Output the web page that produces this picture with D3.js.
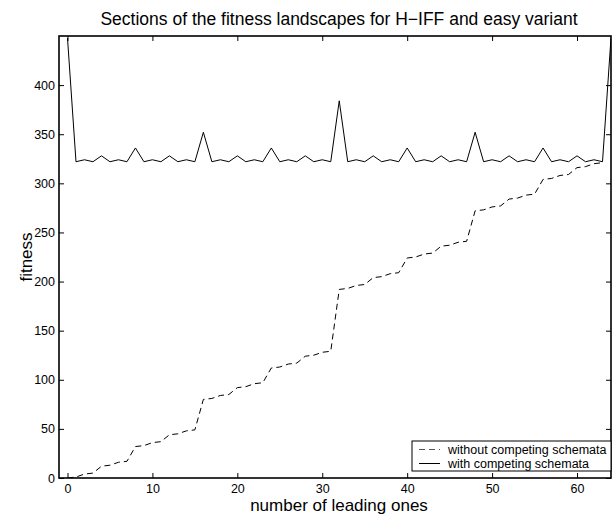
<!DOCTYPE html>
<html>
<head>
<meta charset="utf-8">
<script src="https://cdn.jsdelivr.net/npm/d3@7"></script>
<style>
  body { margin: 0; background: #fff; }
  svg { font-family: "Liberation Sans", Arial, sans-serif; }
</style>
</head>
<body>
<div id="chart"></div>
<script>
// leading ones k = 0..64
var withCompeting = [448, 322, 324, 322, 328, 322, 324, 322, 336, 322, 324, 322, 328, 322, 324, 322,
  352, 322, 324, 322, 328, 322, 324, 322, 336, 322, 324, 322, 328, 322, 324, 322,
  384, 322, 324, 322, 328, 322, 324, 322, 336, 322, 324, 322, 328, 322, 324, 322,
  352, 322, 324, 322, 328, 322, 324, 322, 336, 322, 324, 322, 328, 322, 324, 322, 448];
// k = 0..63
var withoutCompeting = [0, 1, 4, 5, 12, 13, 16, 17, 32, 33, 36, 37, 44, 45, 48, 49,
  80, 81, 84, 85, 92, 93, 96, 97, 112, 113, 116, 117, 124, 125, 128, 129,
  192, 193, 196, 197, 204, 205, 208, 209, 224, 225, 228, 229, 236, 237, 240, 241,
  272, 273, 276, 277, 284, 285, 288, 289, 304, 305, 308, 309, 316, 317, 320, 321];
var xTicks = [0, 10, 20, 30, 40, 50, 60];
var yTicks = [0, 50, 100, 150, 200, 250, 300, 350, 400];
var legendLabels = ["without competing schemata", "with competing schemata"];

var W = 613, H = 514;
var margin = {top: 36, right: 2, bottom: 36, left: 59},
    width = W - margin.left - margin.right,
    height = H - margin.top - margin.bottom;

var svg = d3.select("#chart").append("svg")
    .attr("width", W)
    .attr("height", H);

var g = svg.append("g")
    .attr("transform", "translate(" + margin.left + "," + margin.top + ")");

var x = d3.scaleLinear().domain([-1, 64]).range([0, width]);
var y = d3.scaleLinear().domain([0, 450]).range([height, 0]);

g.append("clipPath").attr("id", "clip")
  .append("rect").attr("width", width).attr("height", height);

var line = d3.line()
    .x(function(d, i) { return x(i); })
    .y(function(d) { return y(d); });

g.append("path")
    .datum(withoutCompeting)
    .attr("clip-path", "url(#clip)")
    .attr("fill", "none")
    .attr("stroke", "#000")
    .attr("stroke-width", 1)
    .attr("stroke-dasharray", "6,4")
    .attr("d", line);

g.append("path")
    .datum(withCompeting)
    .attr("clip-path", "url(#clip)")
    .attr("fill", "none")
    .attr("stroke", "#000")
    .attr("stroke-width", 1)
    .attr("d", line);

// axes, ticks pointing inward, box style
var tickLen = 5;
var xAxis = g.append("g")
    .attr("transform", "translate(0," + height + ")")
    .call(d3.axisBottom(x).tickValues(xTicks).tickSizeInner(-tickLen).tickSizeOuter(0).tickPadding(6));
var xTop = g.append("g")
    .call(d3.axisTop(x).tickValues(xTicks).tickSizeInner(-tickLen).tickSizeOuter(0).tickFormat(""));
var yAxis = g.append("g")
    .call(d3.axisLeft(y).tickValues(yTicks).tickSizeInner(-tickLen).tickSizeOuter(0).tickPadding(4));
var yRight = g.append("g")
    .attr("transform", "translate(" + width + ",0)")
    .call(d3.axisRight(y).tickValues(yTicks).tickSizeInner(-tickLen).tickSizeOuter(0).tickFormat(""));

[xAxis, xTop, yAxis, yRight].forEach(function(a) {
  a.select(".domain").remove();
  a.selectAll(".tick line").attr("stroke", "#000").attr("stroke-width", 1);
  a.selectAll("text").attr("fill", "#000").style("font-size", "12.5px")
    .style("font-family", "Liberation Sans, Arial, sans-serif");
});

g.append("rect")
    .attr("width", width)
    .attr("height", height)
    .attr("fill", "none")
    .attr("stroke", "#000")
    .attr("stroke-width", 1.6);

// legend
var lg = g.append("g").attr("transform", "translate(" + (width - 199) + "," + (height - 37) + ")");
lg.append("rect")
    .attr("width", 199).attr("height", 30)
    .attr("fill", "#fff").attr("stroke", "#000").attr("stroke-width", 1);
legendLabels.forEach(function(lab, i) {
  var ly = 8.5 + i * 14;
  lg.append("line")
      .attr("x1", 7).attr("x2", 28).attr("y1", ly).attr("y2", ly)
      .attr("stroke", i === 0 ? "#555" : "#000").attr("stroke-width", 1)
      .attr("stroke-dasharray", i === 0 ? "6,4" : null);
  lg.append("text")
      .attr("x", 36).attr("y", ly)
      .attr("dy", "0.35em")
      .style("font-size", "12.5px")
      .text(lab);
});

// title and labels
svg.append("text")
    .attr("x", margin.left + width / 2 + 4)
    .attr("y", 25)
    .attr("text-anchor", "middle")
    .style("font-size", "17.5px")
    .text("Sections of the fitness landscapes for H\u2212IFF and easy variant");

svg.append("text")
    .attr("x", margin.left + width / 2 + 4)
    .attr("y", 511)
    .attr("text-anchor", "middle")
    .style("font-size", "17px")
    .text("number of leading ones");

svg.append("text")
    .attr("transform", "translate(32,257) rotate(-90)")
    .attr("text-anchor", "middle")
    .style("font-size", "17px")
    .text("fitness");
</script>
</body>
</html>
